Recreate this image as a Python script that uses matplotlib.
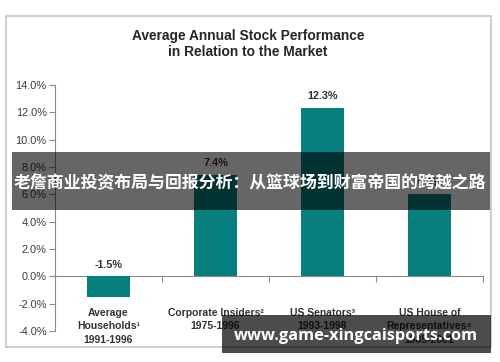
import matplotlib
matplotlib.use("Agg")
import matplotlib.pyplot as plt
from matplotlib.patches import Rectangle

categories = ["Average\nHouseholds\u00b9\n1991-1996",
              "Corporate Insiders\u00b2\n1975-1996",
              "US Senators\u00b3\n1993-1998",
              "US House of\nRepresentatives\u2074\n1985-2001"]
values = [-1.5, 7.4, 12.3, 6.0]
value_labels = ["-1.5%", "7.4%", "12.3%", "6.0%"]
yticks = [-4, -2, 0, 2, 4, 6, 8, 10, 12, 14]
ytick_labels = ["%.1f%%" % v for v in yticks]
title = "Average Annual Stock Performance\nin Relation to the Market"
banner = "老詹商业投资布局与回报分析：从篮球场到财富帝国的跨越之路"
watermark = "www.game-xingcaisports.com"

plt.rcParams['font.family'] = ['Liberation Sans', 'DejaVu Sans']

W, H = 500, 362
fig = plt.figure(figsize=(W / 100, H / 100), dpi=100)
fig.patch.set_facecolor("white")

def fx(x): return x / W
def fy(y): return 1 - y / H

# outer frame
fig.patches.append(Rectangle((fx(6), fy(347)), fx(491) - fx(6), fy(16) - fy(347),
                             transform=fig.transFigure, fill=False,
                             edgecolor="#c9c9c9", lw=1.3, zorder=0))

fig.text(fx(248), fy(44), title, ha="center", va="center", fontsize=9.9,
         fontweight="bold", color="#262626", linespacing=1.25)

ax = fig.add_axes([fx(55), fy(331), fx(483) - fx(55), fy(85) - fy(331)])
ax.set_facecolor("none")
x = list(range(len(categories)))
ax.bar(x, values, width=0.4, color="#087f7f", zorder=3)
ax.set_xlim(-0.5, 3.5)
ax.set_ylim(-4, 14)
ax.set_yticks(yticks)
ax.set_yticklabels(ytick_labels, fontsize=7.9, color="#3a3a3a")
for s in ["top", "right"]:
    ax.spines[s].set_visible(False)
ax.spines["left"].set_color("#8a8a8a")
ax.spines["bottom"].set_position(("data", 0))
ax.spines["bottom"].set_color("#8a8a8a")
ax.set_xticks([0.5, 1.5, 2.5, 3.5])
ax.set_xticklabels([])
ax.tick_params(axis="x", direction="out", length=4, color="#8a8a8a")
ax.tick_params(axis="y", direction="out", length=4, color="#8a8a8a", pad=2)

for i, (v, lab) in enumerate(zip(values, value_labels)):
    ax.annotate(lab, (i, max(v, 0)), xytext=(0, 8.5), textcoords="offset points",
                ha="center", va="center", fontsize=7.8, fontweight="bold",
                color="#333333")
    ax.text(i, -2.3, categories[i], ha="center", va="top", fontsize=7.5,
            fontweight="bold", color="#333333", linespacing=1.45)

# banner overlay
fig.patches.append(Rectangle((fx(12), fy(210)), fx(490) - fx(12), fy(152) - fy(210),
                             transform=fig.transFigure, facecolor="black",
                             alpha=0.6, lw=0, zorder=10))
fig.text(fx(250), fy(183), banner, ha="center", va="center", fontsize=12.2,
         fontweight="bold", color="white",
         family=["Noto Sans CJK SC", "DejaVu Sans"], zorder=11)

# watermark box
fig.patches.append(Rectangle((fx(222), fy(353)), fx(491) - fx(222), fy(315) - fy(353),
                             transform=fig.transFigure, facecolor="black",
                             alpha=0.7, lw=0, zorder=10))
fig.text(fx(356), fy(336), watermark, ha="center", va="center", fontsize=11.8,
         fontweight="bold", color="white", family=["Open Sans", "DejaVu Sans"],
         zorder=11)

fig.savefig("out.png", dpi=100, facecolor="white")
